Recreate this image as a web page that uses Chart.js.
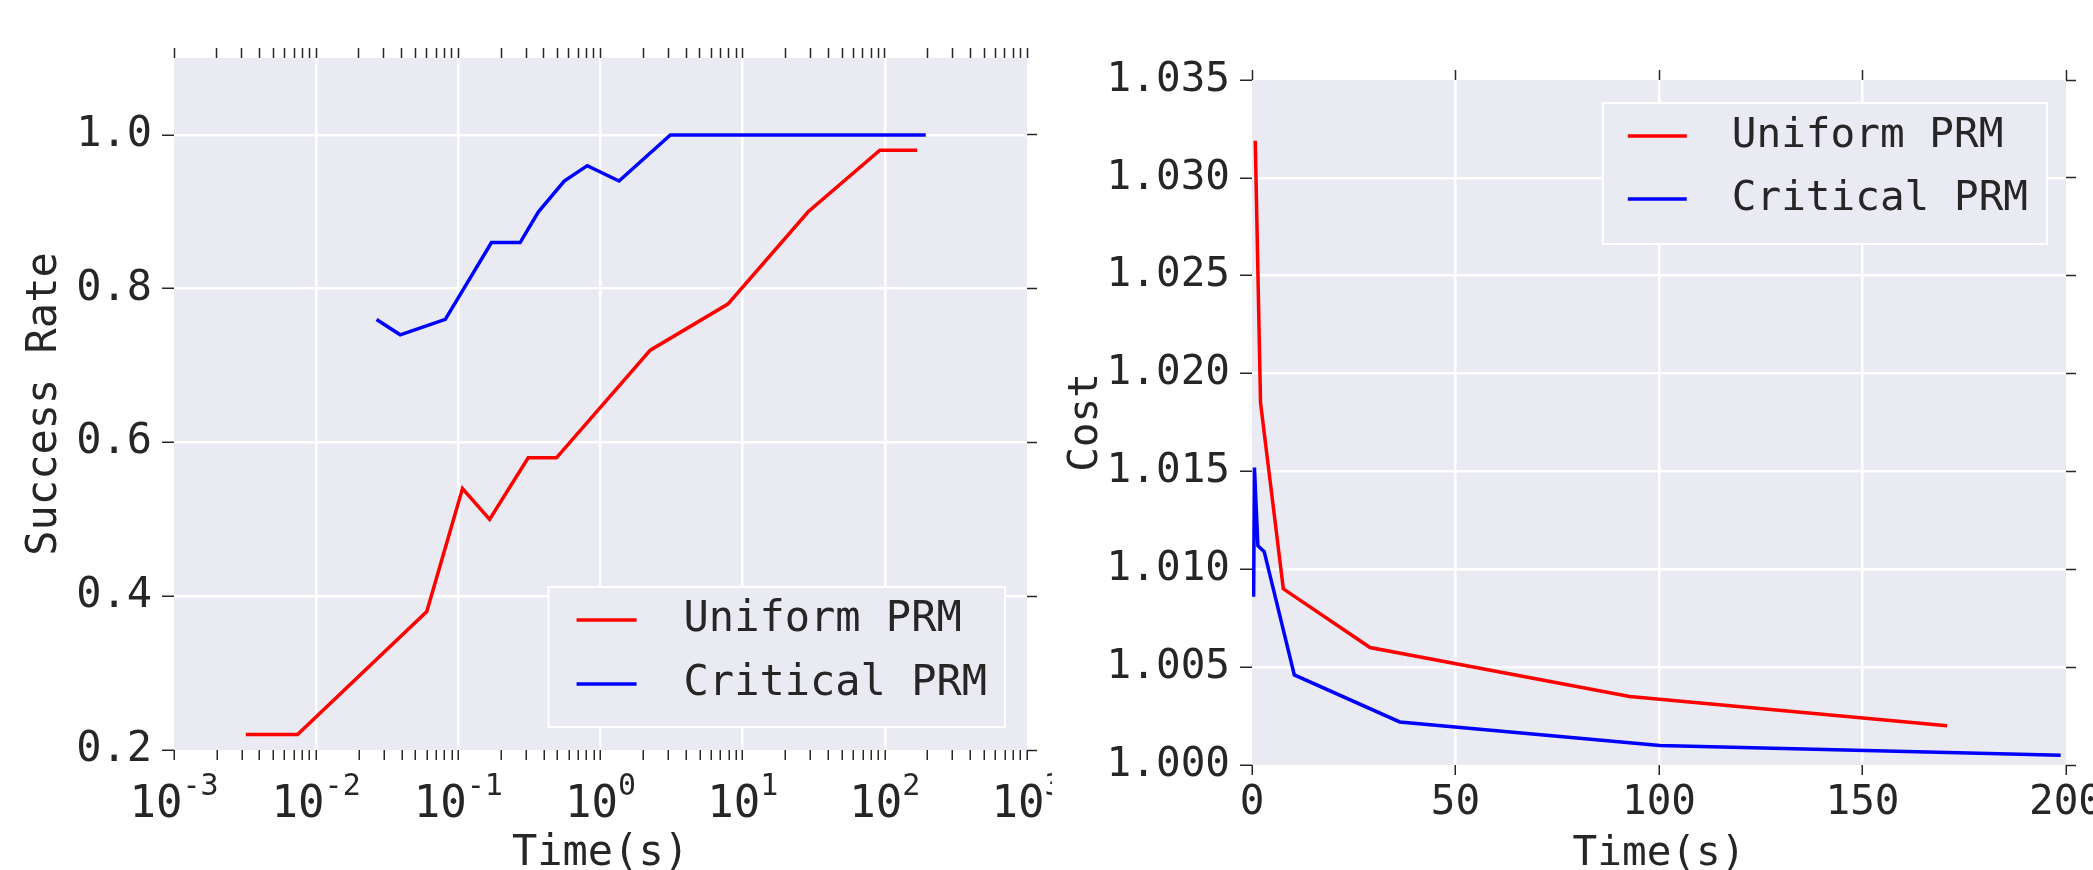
<!DOCTYPE html>
<html>
<head>
<meta charset="utf-8">
<script src="https://cdn.jsdelivr.net/npm/chart.js@4.4.1/dist/chart.umd.min.js"></script>
<style>
    body { margin: 0; background: #ffffff; overflow: hidden; }
    .panel { position: absolute; top: 0; height: 870px; overflow: hidden; }
    #leftPanel { left: 0; width: 1052px; }
    #rightPanel { left: 1052px; width: 1041px; }
    canvas { display: block; }
</style>
</head>
<body>
<div class="panel" id="leftPanel"><canvas id="successChart" width="1052" height="900"></canvas></div>
<div class="panel" id="rightPanel"><canvas id="costChart" width="1041" height="900"></canvas></div>
<script>
// Success rate vs time (log axis)
let uniformTime = [0.0032, 0.0074, 0.060, 0.107, 0.166, 0.31, 0.49, 2.24, 7.87, 28.9, 92.3, 169];
let uniformRate = [0.22, 0.22, 0.38, 0.54, 0.50, 0.58, 0.58, 0.72, 0.78, 0.90, 0.98, 0.98];
let criticalTime = [0.0266, 0.039, 0.081, 0.171, 0.272, 0.366, 0.556, 0.807, 1.35, 3.1, 10.4, 36.3, 100, 194];
let criticalRate = [0.76, 0.74, 0.76, 0.86, 0.86, 0.90, 0.94, 0.96, 0.94, 1.0, 1.0, 1.0, 1.0, 1.0];

// Cost vs time (linear axis)
let uniformCostTime = [0.8, 2.1, 7.7, 29.0, 92.8, 170.8];
let uniformCost = [1.0319, 1.0185, 1.0090, 1.0060, 1.0035, 1.0020];
let criticalCostTime = [0.4, 0.6, 1.45, 3.0, 10.4, 36.3, 100.2, 198.7];
let criticalCost = [1.0086, 1.0152, 1.0112, 1.0109, 1.0046, 1.0022, 1.0010, 1.0005];

// ticks
let timeDecades = [-3, -2, -1, 0, 1, 2, 3];
let decadeBase = '10';
let decadeExponents = ['-3', '-2', '-1', '0', '1', '2', '3'];
let rateTicks = [0.2, 0.4, 0.6, 0.8, 1.0];
let costTimeTicks = [0, 50, 100, 150, 200];
let costTicks = [1.000, 1.005, 1.010, 1.015, 1.020, 1.025, 1.030, 1.035];

let seriesLabels = ['Uniform PRM', 'Critical PRM'];
let seriesColors = ['#ff0000', '#0000ff'];

Chart.defaults.font.family = '"DejaVu Sans Mono", monospace';
Chart.defaults.color = '#262626';

const plotBackground = {
    id: 'plotBackground',
    beforeDraw(chart) {
        let a = chart.chartArea;
        let ctx = chart.ctx;
        ctx.save();
        ctx.fillStyle = '#eaeaf2';
        ctx.fillRect(a.left, a.top, a.right - a.left, a.bottom - a.top);
        ctx.restore();
    }
};

// legend box drawn inside the plot, like matplotlib's
const boxLegend = {
    id: 'boxLegend',
    afterDraw(chart, args, opts) {
        let ctx = chart.ctx;
        let a = chart.chartArea;
        ctx.save();
        ctx.font = opts.fontSize + 'px "DejaVu Sans Mono"';
        let textWidth = Math.max(...chart.data.datasets.map(d => ctx.measureText(d.label).width));
        let w = opts.textLeft + textWidth + opts.padRight;
        let h = opts.height;
        let x = a.right - opts.right - w;
        let y = opts.top !== undefined ? a.top + opts.top : a.bottom - opts.bottom - h;
        ctx.fillStyle = '#eaeaf2';
        ctx.fillRect(x, y, w, h);
        ctx.strokeStyle = '#ffffff';
        ctx.lineWidth = 2;
        ctx.strokeRect(x, y, w, h);
        chart.data.datasets.forEach((d, i) => {
            let rowY = y + opts.firstRow + i * opts.rowGap;
            ctx.strokeStyle = d.borderColor;
            ctx.lineWidth = 3.5;
            ctx.beginPath();
            ctx.moveTo(x + opts.lineLeft, rowY);
            ctx.lineTo(x + opts.lineLeft + opts.lineLength, rowY);
            ctx.stroke();
            ctx.fillStyle = '#262626';
            ctx.textBaseline = 'middle';
            ctx.textAlign = 'left';
            ctx.fillText(d.label, x + opts.textLeft, rowY);
        });
        ctx.restore();
    }
};

// 10^n labels with a raised exponent, placed at the log scale's decade ticks
const powerLabels = {
    id: 'powerLabels',
    afterDraw(chart, args, opts) {
        let scale = chart.scales[opts.scaleId];
        if (!scale) return;
        let ctx = chart.ctx;
        ctx.save();
        ctx.fillStyle = '#262626';
        ctx.textBaseline = 'alphabetic';
        ctx.textAlign = 'left';
        let baseFont = opts.size + 'px "DejaVu Sans Mono"';
        let expFont = opts.expSize + 'px "DejaVu Sans Mono"';
        let baseline = scale.top + opts.baseline;
        timeDecades.forEach((e, i) => {
            let px = scale.getPixelForValue(Math.pow(10, e));
            ctx.font = baseFont;
            let bw = ctx.measureText(decadeBase).width;
            ctx.font = expFont;
            let ew = ctx.measureText(decadeExponents[i]).width;
            let left = px - (bw + ew) / 2;
            ctx.font = baseFont;
            ctx.fillText(decadeBase, left, baseline);
            ctx.font = expFont;
            ctx.fillText(decadeExponents[i], left + bw, baseline - opts.raise);
        });
        ctx.restore();
    }
};

function toPoints(xs, ys) {
    return xs.map((x, i) => ({ x: x, y: ys[i] }));
}

function logTickValues() {
    let values = [];
    timeDecades.forEach((e, i) => {
        let steps = i < timeDecades.length - 1 ? 9 : 1;
        for (let k = 1; k <= steps; k++) {
            values.push(k * Math.pow(10, e));
        }
    });
    return values;
}

function decadeIndex(value) {
    let e = Math.log10(value);
    return timeDecades.findIndex(d => Math.abs(d - e) < 1e-6);
}

function fixedTicks(values) {
    return function (scale) {
        scale.ticks = values.map(v => ({ value: v }));
    };
}

function fixWidth(w) {
    return function (scale) {
        scale.width = w;
        scale.paddingTop = scale.paddingBottom = scale.paddingLeft = scale.paddingRight = 0;
    };
}

function fixHeight(h) {
    return function (scale) {
        scale.height = h;
        scale.paddingTop = scale.paddingBottom = scale.paddingLeft = scale.paddingRight = 0;
    };
}

function makeDatasets(xsA, ysA, xsB, ysB) {
    return [
        { label: seriesLabels[0], data: toPoints(xsA, ysA), borderColor: seriesColors[0], borderWidth: 3.5, pointRadius: 0, fill: false, tension: 0 },
        { label: seriesLabels[1], data: toPoints(xsB, ysB), borderColor: seriesColors[1], borderWidth: 3.5, pointRadius: 0, fill: false, tension: 0 }
    ];
}

let tickColor = '#262626';
let gridWhite = '#ffffff';
let none = 'rgba(0,0,0,0)';

// left chart
let logTicks = logTickValues();
let successChart = new Chart(document.getElementById('successChart').getContext('2d'), {
    type: 'line',
    data: { datasets: makeDatasets(uniformTime, uniformRate, criticalTime, criticalRate) },
    plugins: [plotBackground, boxLegend, powerLabels],
    options: {
        responsive: false,
        animation: false,
        devicePixelRatio: 1,
        layout: { padding: 0 },
        plugins: {
            legend: { display: false },
            tooltip: { enabled: false },
            boxLegend: { fontSize: 42, right: 22, bottom: 23, height: 140, firstRow: 33, rowGap: 64, lineLeft: 28, lineLength: 60, textLeft: 135, padRight: 18 },
            powerLabels: { scaleId: 'x', size: 44, expSize: 30, baseline: 67, raise: 22 }
        },
        scales: {
            x: {
                type: 'logarithmic', position: 'bottom', min: 0.001, max: 1000,
                afterBuildTicks: fixedTicks(logTicks),
                afterFit: fixHeight(150),
                border: { display: false },
                grid: {
                    color: c => (c.tick && decadeIndex(c.tick.value) > 0 && decadeIndex(c.tick.value) < timeDecades.length - 1) ? gridWhite : none,
                    lineWidth: 2.5, tickColor: tickColor, tickWidth: 1.5, tickLength: 10
                },
                ticks: { autoSkip: false, maxRotation: 0, padding: 16, font: { size: 42 }, callback: () => '' },
                title: { display: true, text: 'Time(s)', font: { size: 42 }, padding: { top: 0, bottom: 21 } }
            },
            xTop: {
                type: 'logarithmic', position: 'top', min: 0.001, max: 1000,
                afterBuildTicks: fixedTicks(logTicks),
                afterFit: fixHeight(58),
                border: { display: false },
                grid: { drawOnChartArea: false, tickColor: tickColor, tickWidth: 1.5, tickLength: 10 },
                ticks: { autoSkip: false, maxRotation: 0, callback: () => '' }
            },
            y: {
                type: 'linear', position: 'left', min: 0.2, max: 1.1,
                afterBuildTicks: fixedTicks(rateTicks),
                afterFit: fixWidth(174),
                border: { display: false },
                grid: {
                    color: c => (c.tick && c.tick.value > 0.21) ? gridWhite : none,
                    lineWidth: 2.5, tickColor: tickColor, tickWidth: 1.5, tickLength: 12
                },
                ticks: { padding: 10, font: { size: 42 }, callback: v => v.toFixed(1) },
                title: { display: true, text: 'Success Rate', font: { size: 42 }, padding: { top: 20, bottom: 0 } }
            },
            yRight: {
                type: 'linear', position: 'right', min: 0.2, max: 1.1,
                afterBuildTicks: fixedTicks(rateTicks),
                afterFit: fixWidth(25),
                border: { display: false },
                grid: { drawOnChartArea: false, tickColor: tickColor, tickWidth: 1.5, tickLength: 10 },
                ticks: { callback: () => '' }
            }
        }
    }
});

// right chart
let costChart = new Chart(document.getElementById('costChart').getContext('2d'), {
    type: 'line',
    data: { datasets: makeDatasets(uniformCostTime, uniformCost, criticalCostTime, criticalCost) },
    plugins: [plotBackground, boxLegend],
    options: {
        responsive: false,
        animation: false,
        devicePixelRatio: 1,
        layout: { padding: 0 },
        plugins: {
            legend: { display: false },
            tooltip: { enabled: false },
            boxLegend: { fontSize: 41, right: 19, top: 23, height: 141, firstRow: 33, rowGap: 63, lineLeft: 25, lineLength: 59, textLeft: 129, padRight: 19 }
        },
        scales: {
            x: {
                type: 'linear', position: 'bottom', min: 0, max: 200,
                afterBuildTicks: fixedTicks(costTimeTicks),
                afterFit: fixHeight(135),
                border: { display: false },
                grid: {
                    color: c => (c.tick && c.tick.value > 0 && c.tick.value < 200) ? gridWhite : none,
                    lineWidth: 2.5, tickColor: tickColor, tickWidth: 1.5, tickLength: 10
                },
                ticks: { autoSkip: false, maxRotation: 0, padding: 4, font: { size: 41 }, callback: v => String(v) },
                title: { display: true, text: 'Time(s)', font: { size: 41 }, padding: { top: 0, bottom: 21 } }
            },
            xTop: {
                type: 'linear', position: 'top', min: 0, max: 200,
                afterBuildTicks: fixedTicks(costTimeTicks),
                afterFit: fixHeight(80),
                border: { display: false },
                grid: { drawOnChartArea: false, tickColor: tickColor, tickWidth: 1.5, tickLength: 10 },
                ticks: { autoSkip: false, maxRotation: 0, callback: () => '' }
            },
            y: {
                type: 'linear', position: 'left', min: 1.0, max: 1.035,
                afterBuildTicks: fixedTicks(costTicks),
                afterFit: fixWidth(200),
                border: { display: false },
                grid: {
                    color: c => (c.tick && c.tick.value > 1.0001 && c.tick.value < 1.0349) ? gridWhite : none,
                    lineWidth: 2.5, tickColor: tickColor, tickWidth: 1.5, tickLength: 12
                },
                ticks: { padding: 10, font: { size: 41 }, callback: v => v.toFixed(3) },
                title: { display: true, text: 'Cost', font: { size: 41 }, padding: { top: 10, bottom: 0 } }
            },
            yRight: {
                type: 'linear', position: 'right', min: 1.0, max: 1.035,
                afterBuildTicks: fixedTicks(costTicks),
                afterFit: fixWidth(27),
                border: { display: false },
                grid: { drawOnChartArea: false, tickColor: tickColor, tickWidth: 1.5, tickLength: 10 },
                ticks: { callback: () => '' }
            }
        }
    }
});
</script>
</body>
</html>
